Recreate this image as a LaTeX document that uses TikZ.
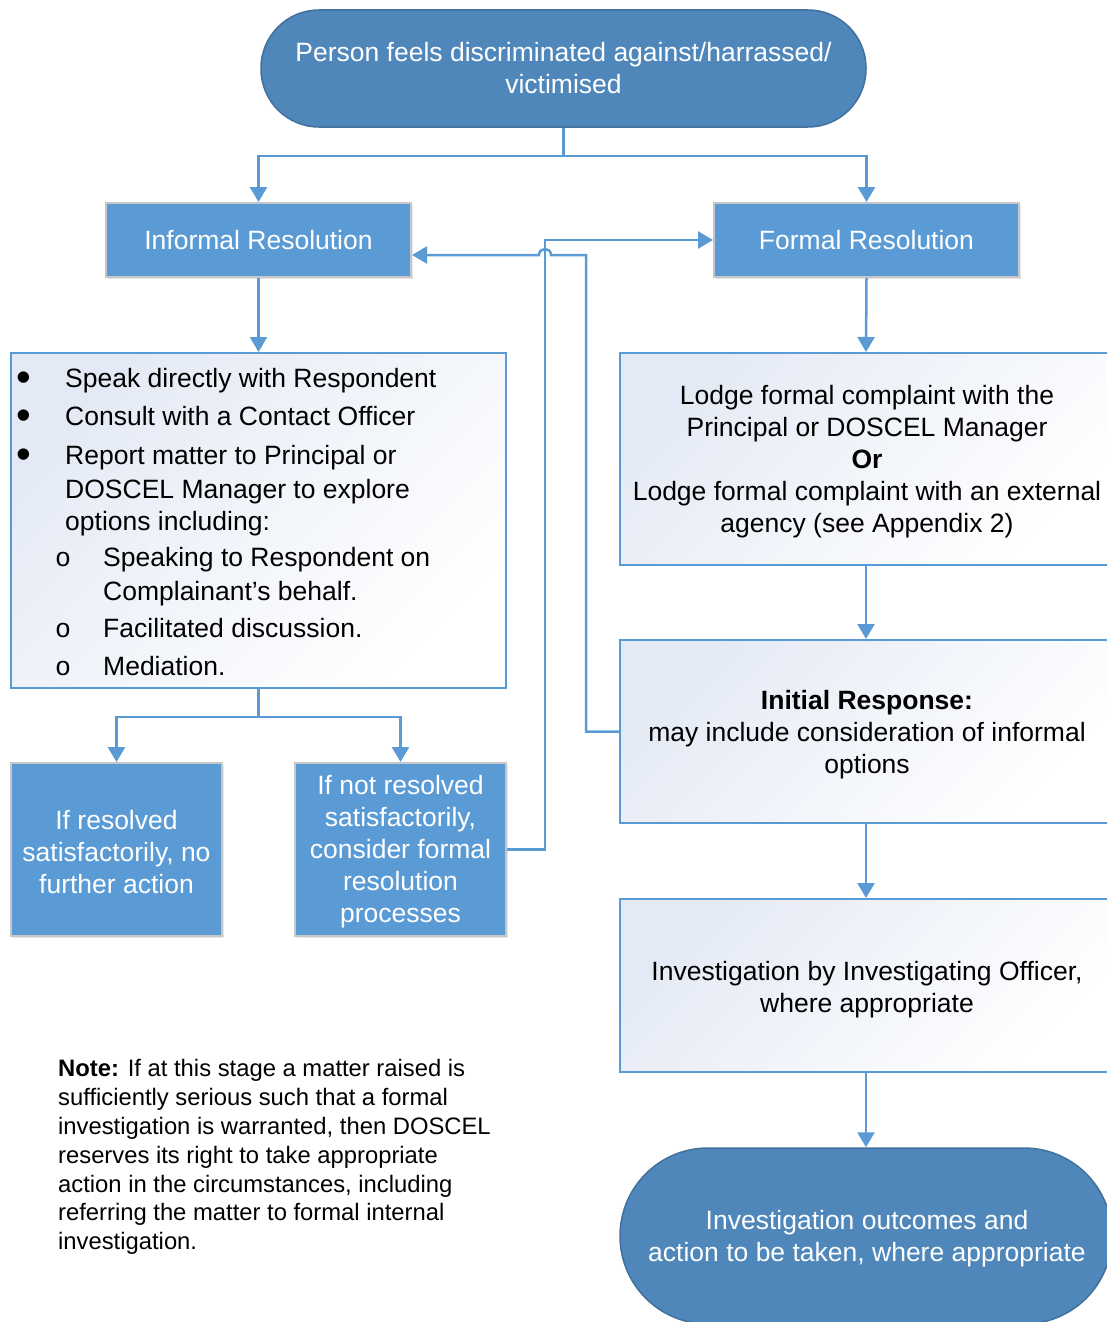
\documentclass[tikz,border=0pt]{standalone}
\usepackage{fontspec}
\setmainfont{Liberation Sans}
\newfontfamily\monofam{Liberation Mono}
\usetikzlibrary{arrows.meta,calc,shadows}
\definecolor{flow}{HTML}{5B9BD5}
\definecolor{term}{HTML}{4F87BA}
\definecolor{termline}{HTML}{41719C}
\definecolor{grad}{HTML}{E4EAF5}
\newcommand\boxfont{\fontsize{26.5}{32}\selectfont}
\newcommand\notefont{\fontsize{23.8}{28.9}\selectfont}
\tikzset{
  conn/.style={draw=flow, line width=2.5pt},
  arr/.style={conn, -{Triangle[length=15pt,width=17pt]}},
  terminal/.style={fill=term, draw=termline, line width=1.5pt, text=white, align=center, font=\boxfont, inner sep=0pt},
  bluebox/.style={fill=flow, draw=black!22, line width=2pt, text=white, align=center, font=\boxfont, inner sep=0pt,
    drop shadow={opacity=0.2, shadow xshift=2pt, shadow yshift=-2pt}},
  whitebox/.style={draw=flow, line width=2pt, top color=grad, bottom color=white, shading angle=45, align=center, font=\boxfont, inner sep=0pt},
  lbl/.style={align=center, font=\boxfont, inner sep=0pt},
  wlbl/.style={lbl, text=white},
  txt/.style={font=\boxfont, inner sep=0pt, anchor=base west},
  bul/.style={font=\fontsize{42}{42}\selectfont, inner sep=0pt, anchor=center},
  subbul/.style={font=\monofam\fontsize{26.5}{32}\selectfont, inner sep=0pt, anchor=base west},
}
\begin{document}
\begin{tikzpicture}[x=1pt,y=-1pt]
\useasboundingbox (0,0) rectangle (1107,1322);
\clip (0,0) rectangle (1107,1322);

% nodes
\node[terminal, minimum width=605pt, minimum height=117pt, rounded corners=58pt] (start) at (563.5,68.5)
  {Person feels discriminated against/harrassed/\\victimised};
\node[bluebox, minimum width=305pt, minimum height=74pt] (informal) at (258.5,240) {Informal Resolution};
\node[bluebox, minimum width=305pt, minimum height=74pt] (formal) at (866.5,240) {Formal Resolution};

\node[whitebox, minimum width=495pt, minimum height=335pt] (list) at (258.5,520.5) {};
\node[bul] (b1) at (24,382) {•};
\node[bul] (b2) at (24,420) {•};
\node[bul] (b3) at (24,459) {•};
\node[txt] (l1) at (65,387) {Speak directly with Respondent};
\node[txt] (l2) at (65,425) {Consult with a Contact Officer};
\node[txt] (l3) at (65,464) {Report matter to Principal or};
\node[txt] (l4) at (65,498) {DOSCEL Manager to explore};
\node[txt] (l5) at (65,530) {options including:};
\node[subbul] (s1) at (55,566) {o};
\node[subbul] (s2) at (55,637) {o};
\node[subbul] (s3) at (55,675) {o};
\node[txt] (l6) at (103,566) {Speaking to Respondent on};
\node[txt] (l7) at (103,600) {Complainant’s behalf.};
\node[txt] (l8) at (103,637) {Facilitated discussion.};
\node[txt] (l9) at (103,675) {Mediation.};

\node[bluebox, minimum width=211pt, minimum height=173pt] (res) at (116.5,849.5) {};
\node[wlbl] (resT) at (116.5,852) {If resolved\\satisfactorily, no\\further action};
\node[bluebox, minimum width=211pt, minimum height=173pt] (notres) at (400.5,849.5) {};
\node[wlbl] (notresT) at (400.5,852) {If not resolved\\satisfactorily,\\consider formal\\resolution\\processes};

\node[whitebox, minimum width=492pt, minimum height=212pt] (lodge) at (866,459) {};
\node[lbl] (lodgeT) at (867,462)
  {Lodge formal complaint with the\\Principal or DOSCEL Manager\\\textbf{Or}\\Lodge formal complaint with an external\\agency (see Appendix 2)};
\node[whitebox, minimum width=492pt, minimum height=183pt] (initial) at (866,731.5) {};
\node[lbl] (initialT) at (867,735)
  {\textbf{Initial Response:}\\may include consideration of informal\\options};
\node[whitebox, minimum width=492pt, minimum height=173pt] (invest) at (866,985.5) {};
\node[lbl] (investT) at (867,990)
  {Investigation by Investigating Officer,\\where appropriate};
\node[terminal, minimum width=492pt, minimum height=176pt, rounded corners=88pt] (outcome) at (866,1236) {};
\node[wlbl] (outcomeT) at (867,1239)
  {Investigation outcomes and\\action to be taken, where appropriate};

\node[font=\notefont, align=left, inner sep=0pt, anchor=north west] (note) at (58,1059)
  {\textbf{Note:} If at this stage a matter raised is\\
   sufficiently serious such that a formal\\
   investigation is warranted, then DOSCEL\\
   reserves its right to take appropriate\\
   action in the circumstances, including\\
   referring the matter to formal internal\\
   investigation.};

% connectors
\draw[conn] (start.south) -- ++(0,28) coordinate (split1);
\draw[arr] (split1) -| (informal.north);
\draw[arr] (split1) -| (formal.north);
\draw[arr] (informal.south) -- (list.north);
\draw[conn] (list.south) -- ++(0,28) coordinate (split2);
\draw[arr] (split2) -| (res.north);
\draw[arr] (split2) -| (notres.north);

\coordinate (jx) at (545,240);
\coordinate (kx) at (586,255);
\coordinate (hopR) at (551,255);
\coordinate (hopL) at (539,255);
\draw[arr] (notres.east) -- (notres.east -| jx) -- (jx) -- (formal.west);
\draw[arr] (initial.west) -- (initial.west -| kx) -- (kx) -- (hopR)
  .. controls ($(hopR)+(0,-8)$) and ($(hopL)+(0,-8)$) .. (hopL) -- (informal.east |- kx);

\draw[arr] (formal.south) -- (lodge.north);
\draw[arr] (lodge.south) -- (initial.north);
\draw[arr] (initial.south) -- (invest.north);
\draw[arr] (invest.south) -- (outcome.north);
\end{tikzpicture}
\end{document}
